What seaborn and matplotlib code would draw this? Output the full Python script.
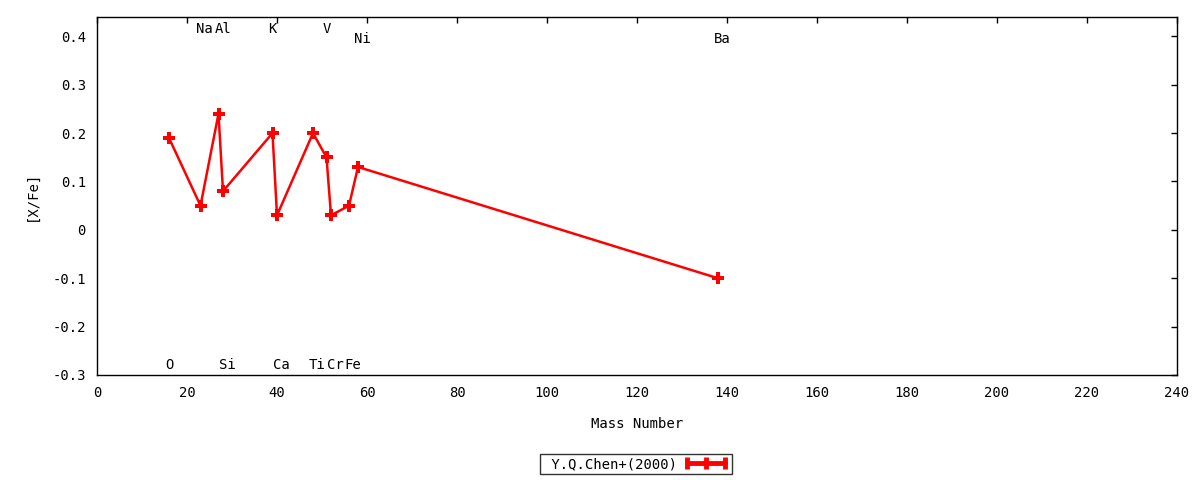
import numpy as np
import pandas as pd
import matplotlib
matplotlib.use("Agg")
import matplotlib.pyplot as plt
from matplotlib.lines import Line2D
import seaborn as sns

# data
elements = ["O", "Na", "Al", "Si", "K", "Ca", "Ti", "V", "Cr", "Fe", "Ni", "Ba"]
mass_number = [16, 23, 27, 28, 39, 40, 48, 51, 52, 56, 58, 138]
x_fe = [0.19, 0.05, 0.24, 0.08, 0.20, 0.03, 0.20, 0.15, 0.03, 0.05, 0.13, -0.10]
label_y = [-0.28, 0.415, 0.415, -0.28, 0.415, -0.28, -0.28, 0.415, -0.28, -0.28, 0.395, 0.395]
series_name = "Y.Q.Chen+(2000)"

df = pd.DataFrame({"mass": mass_number, "xfe": x_fe, "el": elements})

sns.set_style("white")
plt.rcParams["font.family"] = ["DejaVu Sans Mono", "DejaVu Sans"]
plt.rcParams["font.size"] = 10
plt.rcParams["text.color"] = "black"
plt.rcParams["axes.labelcolor"] = "black"

fig = plt.figure(figsize=(12, 4.8), dpi=100)
ax = fig.add_axes([97 / 1200, 1 - 375 / 480, 1080 / 1200, 358 / 480])

sns.lineplot(data=df, x="mass", y="xfe", ax=ax, color="red", linewidth=1.8,
             marker="P", markersize=9, markeredgewidth=0, sort=False,
             legend=False)

for el, m, ly in zip(elements, mass_number, label_y):
    ax.annotate(el, (m, ly), xytext=(-3, 0), textcoords="offset points",
                ha="left", va="center", fontsize=10, color="black")

ax.set_xlim(0, 240)
ax.set_ylim(-0.3, 0.44)
ax.set_xticks(np.arange(0, 241, 20))
ax.set_yticks([-0.3, -0.2, -0.1, 0, 0.1, 0.2, 0.3, 0.4])
ax.set_yticklabels(["-0.3", "-0.2", "-0.1", "0", "0.1", "0.2", "0.3", "0.4"])
ax.tick_params(direction="in", length=4, width=1, top=True, right=True,
               colors="black", labelsize=10, pad=8)
for s in ax.spines.values():
    s.set_color("black")
    s.set_linewidth(1)
ax.set_xlabel("Mass Number", labelpad=12)
ax.set_ylabel("[X/Fe]", labelpad=10)

# legend: text first, then the line sample with three bar markers
handle = Line2D([], [], color="red", linewidth=3.5, marker="|",
                markersize=9, markeredgewidth=3.5)
leg = ax.legend([handle], [" " + series_name], loc="center",
                bbox_to_anchor=(0.499, -0.249), numpoints=3,
                markerfirst=False, frameon=True, fancybox=False,
                handlelength=3.3, handletextpad=0.45, borderpad=0.2,
                borderaxespad=0, fontsize=10)
leg.get_frame().set_edgecolor("black")
leg.get_frame().set_linewidth(1)

fig.savefig("out.png", dpi=100)
